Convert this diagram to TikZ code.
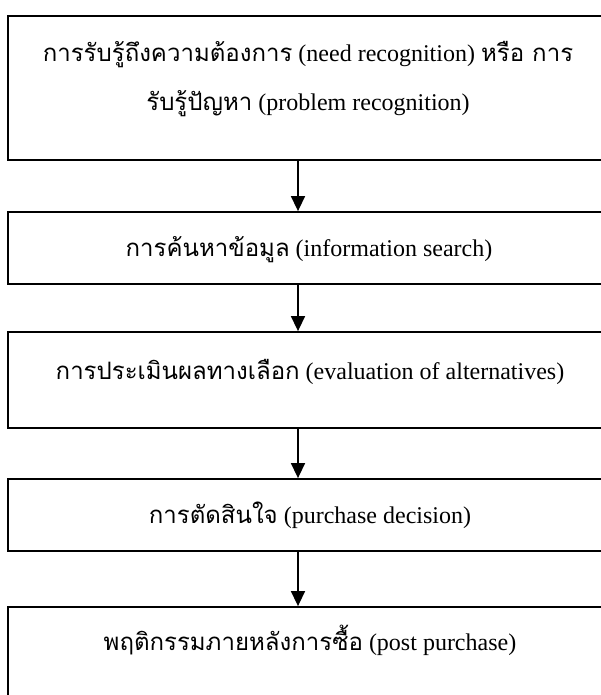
\documentclass[tikz,border=0pt]{standalone}
\usepackage{fontspec}
\setmainfont{Liberation Serif}
\newfontfamily\thai[Script=Thai]{Loma}
\usetikzlibrary{arrows.meta}
\tikzset{
  stagebox/.style={draw=black, line width=1.8bp, rectangle, minimum width=602bp, inner sep=0pt},
  txt/.style={anchor=base, inner sep=0pt, font=\fontsize{24bp}{28bp}\selectfont, text=black},
  arr/.style={draw=black, line width=1.5bp, -{Triangle[width=14bp,length=15bp]}}
}
\newcommand{\thtxt}[1]{{\thai #1}}
\begin{document}
\begin{tikzpicture}[x=1bp, y=-1bp]
\useasboundingbox (0,0) rectangle (601,695);
\clip (0,0) rectangle (601,695);
\fill[white] (0,0) rectangle (601,695);
\coordinate (ax) at (298,0);
\node[stagebox, minimum height=144bp] (b1) at (309,88) {};
\node[stagebox, minimum height=72bp] (b2) at (309,248) {};
\node[stagebox, minimum height=96bp] (b3) at (309,380) {};
\node[stagebox, minimum height=72bp] (b4) at (309,515) {};
\node[stagebox, minimum height=144bp] (b5) at (309,679) {};
\node[txt] (t1a) at (308,62) {\thtxt{การรับรู้ถึงความต้องการ} (need recognition) \thtxt{หรือ การ}};
\node[txt] (t1b) at (308,111) {\thtxt{รับรู้ปัญหา} (problem recognition)};
\node[txt] (t2) at (309,256) {\thtxt{การค้นหาข้อมูล} (information search)};
\node[txt] (t3) at (310,379) {\thtxt{การประเมินผลทางเลือก} (evaluation of alternatives)};
\node[txt] (t4) at (310,523) {\thtxt{การตัดสินใจ} (purchase decision)};
\node[txt] (t5) at (310,650) {\thtxt{พฤติกรรมภายหลังการซื้อ} (post purchase)};
\draw[arr] (b1.south -| ax) -- (b2.north -| ax);
\draw[arr] (b2.south -| ax) -- (b3.north -| ax);
\draw[arr] (b3.south -| ax) -- (b4.north -| ax);
\draw[arr] (b4.south -| ax) -- (b5.north -| ax);
\end{tikzpicture}
\end{document}
